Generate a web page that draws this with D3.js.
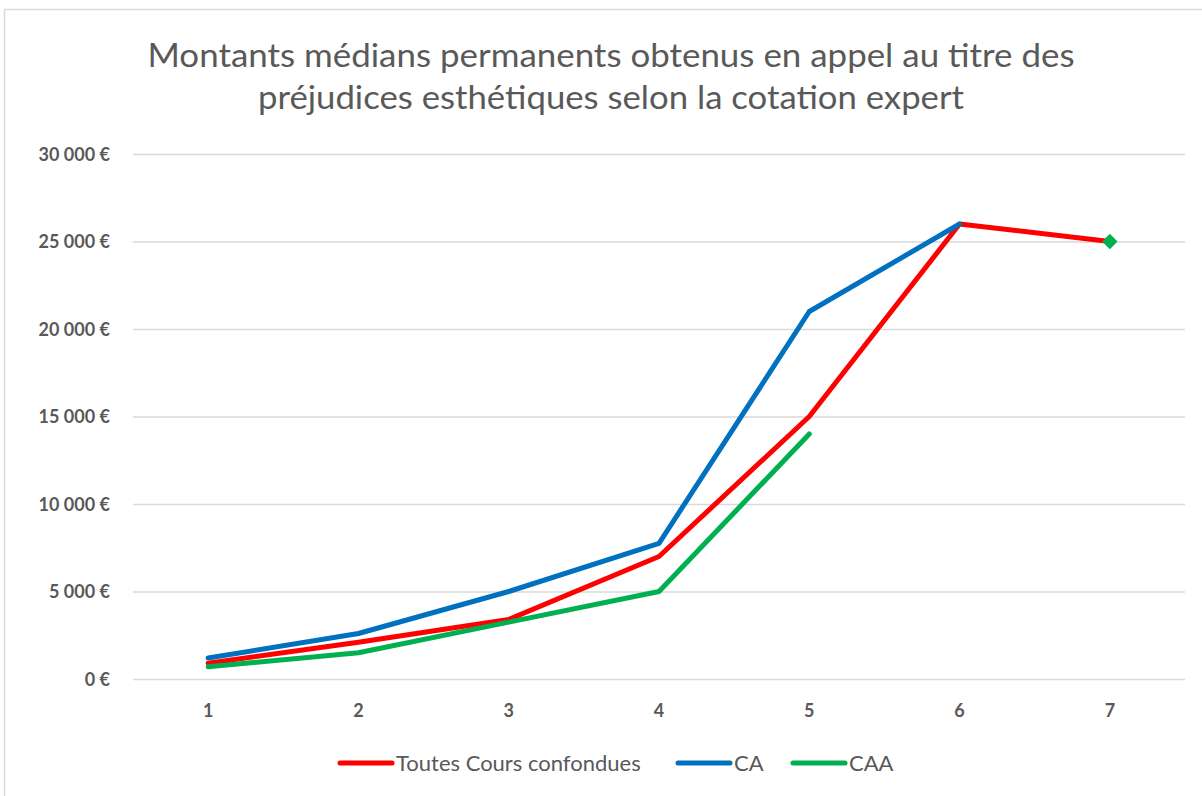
<!DOCTYPE html>
<meta charset="utf-8">
<style>
    body { margin: 0; background: #fff; }
    svg { display: block; font-family: Lato, "Open Sans", sans-serif; }
    .tick text { fill: #595959; font-weight: bold; font-size: 18px; font-family: Lato, "Open Sans", sans-serif; }
</style>
<script src="https://cdn.jsdelivr.net/npm/d3@7"></script>
<svg width="1202" height="796"></svg>
<script>
    var categories = [1, 2, 3, 4, 5, 6, 7];
    var toutes = [900, 2100, 3400, 7000, 15000, 26000, 25000];
    var ca = [1200, 2600, 5000, 7750, 21000, 26000, null];
    var caa = [700, 1500, 3250, 5000, 14000, null, 25000];
    var yTicks = [0, 5000, 10000, 15000, 20000, 25000, 30000];
    var titre = ["Montants médians permanents obtenus en appel au titre des",
                 "préjudices esthétiques selon la cotation expert"];

    var series = [
        { nom: "Toutes Cours confondues", valeurs: toutes, couleur: "#ff0000" },
        { nom: "CA", valeurs: ca, couleur: "#0070c0" },
        { nom: "CAA", valeurs: caa, couleur: "#00b050" }
    ];

    var svg = d3.select("svg");

    // cadre du graphique
    svg.append("rect")
        .attr("x", 4.5).attr("y", 9.5)
        .attr("width", 1300).attr("height", 900)
        .attr("fill", "none").attr("stroke", "#d9d9d9").attr("stroke-width", 1.5);

    var x = d3.scaleBand().domain(categories).range([133, 1185]);
    var y = d3.scaleLinear().domain([0, 30000]).range([679, 154]);

    var fmt = d3.formatLocale({ decimal: ",", thousands: " ", grouping: [3], currency: ["", " €"] }).format("$,d");

    // titre
    svg.append("g").selectAll("text")
        .data(titre)
        .enter().append("text")
        .attr("x", 611)
        .attr("y", function (d, i) { return 67 + i * 42; })
        .attr("text-anchor", "middle")
        .attr("fill", "#595959")
        .attr("font-size", 33)
        .attr("textLength", function (d, i) { return i == 0 ? 927 : 706; })
        .attr("lengthAdjust", "spacingAndGlyphs")
        .text(function (d) { return d; });

    // axe y + grille
    var gy = svg.append("g")
        .attr("transform", "translate(133,0)")
        .call(d3.axisLeft(y).tickValues(yTicks).tickFormat(fmt).tickSize(-1052).tickPadding(23));
    gy.select(".domain").remove();
    gy.selectAll(".tick line").attr("stroke", "#d9d9d9").attr("stroke-width", 1.5);
    gy.selectAll(".tick text").attr("dy", "0.35em");

    // axe x
    var gx = svg.append("g")
        .attr("transform", "translate(0,679)")
        .call(d3.axisBottom(x).tickSize(0).tickPadding(25));
    gx.select(".domain").remove();

    var cx = function (d, i) { return x(categories[i]) + x.bandwidth() / 2; };

    var line = d3.line()
        .defined(function (d) { return d != null; })
        .x(cx)
        .y(function (d) { return y(d); });

    svg.append("g").selectAll("path")
        .data(series)
        .enter().append("path")
        .attr("d", function (s) { return line(s.valeurs); })
        .attr("fill", "none")
        .attr("stroke", function (s) { return s.couleur; })
        .attr("stroke-width", 5)
        .attr("stroke-linejoin", "round")
        .attr("stroke-linecap", "round");

    // points isolés (CAA en 7)
    series.forEach(function (s) {
        s.valeurs.forEach(function (v, i) {
            var avant = i > 0 ? s.valeurs[i - 1] : null;
            var apres = i < s.valeurs.length - 1 ? s.valeurs[i + 1] : null;
            if (v != null && avant == null && apres == null) {
                svg.append("path")
                    .attr("d", d3.symbol(d3.symbolDiamond2, 150)())
                    .attr("transform", "translate(" + cx(v, i) + "," + y(v) + ")")
                    .attr("fill", s.couleur);
            }
        });
    });

    // légende
    var legX = [340, 678, 793];
    var leg = svg.append("g").selectAll("g")
        .data(series)
        .enter().append("g")
        .attr("transform", function (s, i) { return "translate(" + legX[i] + ",763)"; });
    leg.append("line")
        .attr("x1", 0).attr("x2", 52)
        .attr("stroke", function (s) { return s.couleur; })
        .attr("stroke-width", 5).attr("stroke-linecap", "round");
    leg.append("text")
        .attr("x", 56).attr("dy", "0.35em")
        .attr("fill", "#595959").attr("font-size", 22)
        .text(function (s) { return s.nom; });
</script>
